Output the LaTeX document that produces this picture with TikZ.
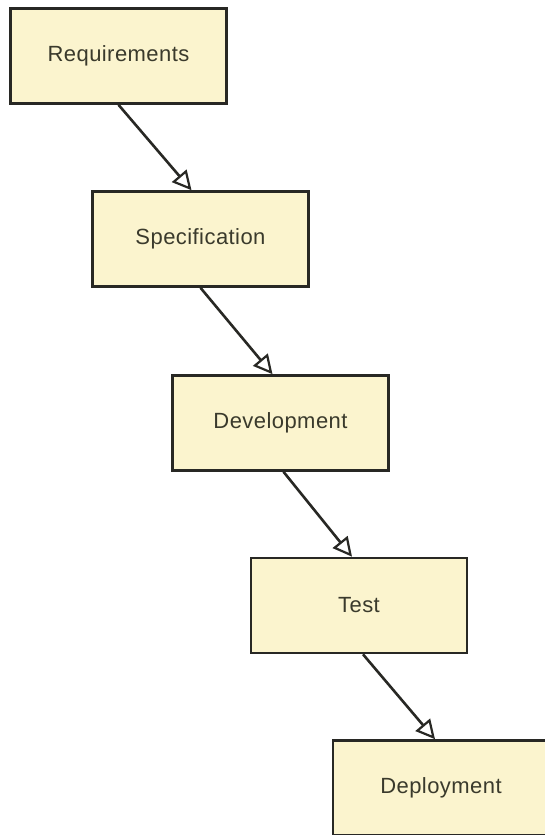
\documentclass[tikz,border=0pt]{standalone}
\usepackage{fontspec}
\setmainfont{Liberation Sans}[LetterSpace=2]
\usetikzlibrary{arrows.meta}
\definecolor{boxfill}{RGB}{251,244,206}
\definecolor{boxline}{RGB}{40,40,36}
\definecolor{boxtext}{RGB}{58,58,44}
\tikzset{
  stage/.style={draw=boxline, fill=boxfill, line width=2.6pt, minimum width=216pt, minimum height=95pt, inner sep=0pt, text=boxtext, font=\fontsize{22}{25}\selectfont},
  flow/.style={draw=boxline, line width=2.6pt, -{Triangle[open, length=19pt, width=19pt, line width=2.2pt, fill=white]}}
}
\begin{document}
\begin{tikzpicture}[x=1pt,y=-1pt]
\clip (0,0) rectangle (545,835);
\fill[white] (0,0) rectangle (545,835);
\node[stage] (req) at (118.5,56) {Requirements};
\node[stage] (spec) at (200.5,239) {Specification};
\node[stage] (dev) at (280.5,423) {Development};
\node[stage] (test) at (359,605.5) {Test};
\node[stage] (dep) at (441,788) {Deployment};
\draw[flow] (req.south) -- ([xshift=-9pt]spec.north);
\draw[flow] (spec.south) -- ([xshift=-8pt]dev.north);
\draw[flow] ([xshift=3pt]dev.south) -- ([xshift=-7pt]test.north);
\draw[flow] ([xshift=4pt]test.south) -- ([xshift=-6pt]dep.north);
\end{tikzpicture}
\end{document}
